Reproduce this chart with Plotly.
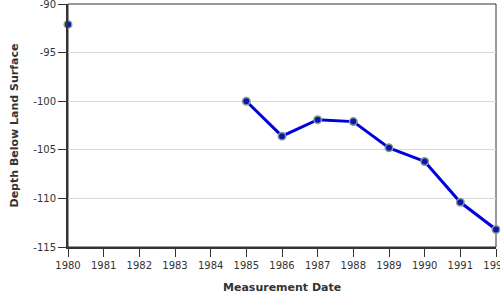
import plotly.graph_objects as go

years = [1980, 1981, 1982, 1983, 1984, 1985, 1986, 1987, 1988, 1989, 1990, 1991, 1992]
depths = [-92.1, None, None, None, None, -100.0, -103.6, -101.9, -102.1, -104.8, -106.2, -110.4, -113.2]
x_ticks = list(range(1980, 1993))
y_ticks = [-115, -110, -105, -100, -95, -90]

fig = go.Figure()
fig.add_trace(go.Scatter(
    x=years, y=depths, mode="lines+markers", connectgaps=False,
    line=dict(color="#0000dd", width=3),
    marker=dict(color="#0a1aa8", size=7.5, line=dict(color="#8a9a9a", width=1.5)),
    showlegend=False, hoverinfo="skip", cliponaxis=False,
))

fig.update_layout(
    width=500, height=300,
    margin=dict(l=68, r=4, t=4, b=53, autoexpand=False),
    paper_bgcolor="white", plot_bgcolor="white",
    font=dict(family="DejaVu Sans", size=10, color="#333333"),
    shapes=[dict(type="rect", xref="paper", yref="paper", x0=0, y0=0, x1=1, y1=1,
                 line=dict(color="#333333", width=1), layer="below")],
    annotations=[
        dict(text="<b>Measurement Date</b>", xref="paper", yref="paper", x=0.5, y=0,
             xanchor="center", yanchor="middle", yshift=-40, showarrow=False,
             font=dict(size=11, color="#333333")),
        dict(text="<b>Depth Below Land Surface</b>", xref="paper", yref="paper", x=0, y=0.5,
             xanchor="center", yanchor="middle", xshift=-54, textangle=-90, showarrow=False,
             font=dict(size=11, color="#333333")),
    ],
)
fig.update_xaxes(
    range=[1980, 1992], tickvals=x_ticks, ticktext=[str(t) for t in x_ticks],
    ticks="outside", ticklen=8, tickcolor="#333333", tickwidth=1,
    showline=True, linecolor="#333333", linewidth=2, showgrid=False, zeroline=False,
    ticklabeloverflow="allow", automargin=False,
    tickfont=dict(size=10, color="#333333"),
)
fig.update_yaxes(
    range=[-115, -90], tickvals=y_ticks, ticktext=[str(t) for t in y_ticks],
    ticks="outside", ticklen=8, tickcolor="#333333", tickwidth=1,
    showline=True, linecolor="#333333", linewidth=2,
    showgrid=True, gridcolor="#d9d9d9", gridwidth=1, zeroline=False,
    ticklabeloverflow="allow", automargin=False,
    tickfont=dict(size=10, color="#333333"),
)
fig.write_html("out.html")
